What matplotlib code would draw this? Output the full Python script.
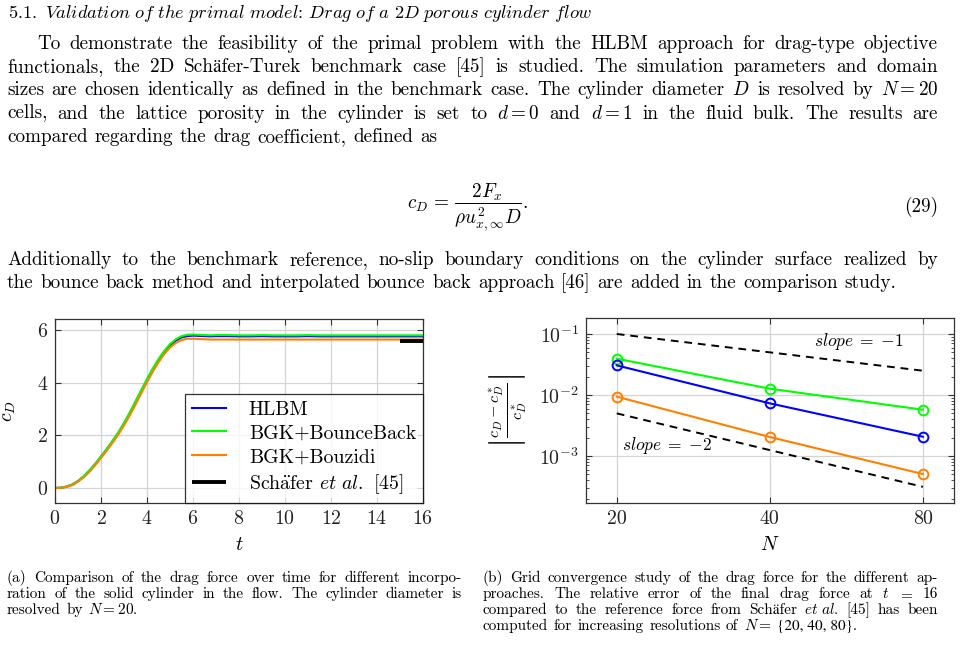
import re
import matplotlib
matplotlib.use("Agg")
import matplotlib.pyplot as plt
from matplotlib.ticker import FixedLocator, FixedFormatter, NullLocator, LogLocator

plt.rcParams['font.family'] = ['cmr10', 'STIXGeneral', 'DejaVu Serif']
plt.rcParams['mathtext.fontset'] = 'cm'
plt.rcParams['axes.formatter.use_mathtext'] = True
plt.rcParams['axes.unicode_minus'] = True

# ---------------- data ----------------
t = [0.0, 0.25, 0.5, 0.75, 1.0, 1.25, 1.5, 1.75, 2.0, 2.25, 2.5, 2.75, 3.0, 3.25,
     3.5, 3.75, 4.0, 4.25, 4.5, 4.75, 5.0, 5.25, 5.5, 5.75, 6.0, 6.25, 6.5, 6.75,
     7.0, 7.5, 8.0, 8.5, 9.0, 9.5, 10.0, 10.5, 11.0, 11.5, 12.0, 12.5, 13.0, 13.5,
     14.0, 14.5, 15.0, 15.5, 16.0]
cd_hlbm = [0.00, 0.01, 0.05, 0.13, 0.26, 0.44, 0.66, 0.91, 1.19, 1.47, 1.77, 2.09,
           2.45, 2.84, 3.26, 3.69, 4.10, 4.50, 4.86, 5.17, 5.42, 5.60, 5.72, 5.77,
           5.79, 5.78, 5.77, 5.76, 5.77, 5.77, 5.76, 5.76, 5.77, 5.76, 5.76, 5.76,
           5.77, 5.76, 5.76, 5.76, 5.76, 5.76, 5.76, 5.76, 5.76, 5.76, 5.76]
cd_bounceback = [0.00, 0.01, 0.05, 0.13, 0.27, 0.45, 0.67, 0.92, 1.20, 1.48, 1.79,
                 2.11, 2.47, 2.87, 3.29, 3.72, 4.14, 4.54, 4.90, 5.21, 5.47, 5.65,
                 5.77, 5.82, 5.83, 5.82, 5.81, 5.80, 5.81, 5.81, 5.80, 5.80, 5.81,
                 5.80, 5.80, 5.80, 5.81, 5.80, 5.80, 5.80, 5.80, 5.80, 5.80, 5.80,
                 5.80, 5.80, 5.80]
cd_bouzidi = [0.00, 0.01, 0.04, 0.11, 0.24, 0.41, 0.62, 0.87, 1.14, 1.42, 1.72, 2.03,
              2.38, 2.76, 3.17, 3.60, 4.02, 4.42, 4.78, 5.09, 5.34, 5.51, 5.62, 5.67,
              5.67, 5.66, 5.65, 5.64, 5.64, 5.64, 5.64, 5.64, 5.64, 5.64, 5.64, 5.64,
              5.64, 5.64, 5.64, 5.64, 5.64, 5.64, 5.64, 5.64, 5.64, 5.64, 5.64]
t_ref = [15.0, 16.0]
cd_ref = [5.58, 5.58]

N = [20, 40, 80]
err_hlbm = [0.0306, 0.0073, 0.00207]
err_bounceback = [0.0394, 0.0127, 0.00574]
err_bouzidi = [0.0094, 0.00205, 0.000507]
N_slope = [20, 80]
slope1 = [0.1, 0.025]
slope2 = [0.005, 0.0003125]

series_names = ['HLBM', 'BGK+BounceBack', 'BGK+Bouzidi',
                r'Sch$\mathrm{\ddot{a}}$fer $\mathit{et\ al.}$ [45]']
colors = ['#0000ff', '#00ff00', '#ff8000', '#000000']
xticks_t = [0, 2, 4, 6, 8, 10, 12, 14, 16]
yticks_cd = [0, 2, 4, 6]

# ---------------- page ----------------
W, H = 961, 654
fig = plt.figure(figsize=(W / 100, H / 100), dpi=100)
renderer = fig.canvas.get_renderer()


def tokens(s):
    return re.findall(r'\$[^$]*\$[^ ]*|[^ ]+', s)


def place_line(text, x0, x1, ybase, size, justify=True, **kw):
    words = tokens(text)
    objs = []
    for w in words:
        extra = dict(kw)
        if w.startswith('{'):
            extra['family'] = 'STIXGeneral'
        objs.append(fig.text(0, 0, w, fontsize=size, va='baseline', ha='left', **extra))
    widths = [o.get_window_extent(renderer).width for o in objs]
    if justify and len(words) > 1:
        gap = (x1 - x0 - sum(widths)) / (len(words) - 1)
    else:
        gap = size * 100 / 72 * 0.36
    x = x0
    for o, w in zip(objs, widths):
        o.set_position((x / W, 1 - ybase / H))
        x += w + gap


BODY = 13.8
fig.text(8 / W, 1 - 18 / H,
         r'$\mathit{5.1.\ Validation\ of\ the\ primal\ model}$:'
         r' $\mathit{Drag\ of\ a\ 2D\ porous\ cylinder\ flow}$',
         fontsize=13.2, va='baseline', ha='left')

para1 = [
    ("To demonstrate the feasibility of the primal problem with the HLBM approach for drag-type objective", 37, True),
    ("functionals, the 2D Schäfer-Turek benchmark case [45] is studied. The simulation parameters and domain", 7, True),
    ("sizes are chosen identically as defined in the benchmark case. The cylinder diameter $D$ is resolved by $N=20$", 7, True),
    ("cells, and the lattice porosity in the cylinder is set to $d=0$ and $d=1$ in the fluid bulk. The results are", 7, True),
    ("compared regarding the drag coefficient, defined as", 7, False),
]
yb = 49
for txt, x0, just in para1:
    place_line(txt, x0, 938, yb, BODY, justify=just)
    yb += 23.2

fig.text(407 / W, 1 - 207 / H, r'$c_D\,=\,\dfrac{2F_x}{\rho u_{x,\infty}^2 D}.$',
         fontsize=BODY, va='center', ha='left')
fig.text(938 / W, 1 - 207 / H, '(29)', fontsize=BODY, va='center', ha='right')

para2 = [
    ("Additionally to the benchmark reference, no-slip boundary conditions on the cylinder surface realized by", 7, True),
    ("the bounce back method and interpolated bounce back approach [46] are added in the comparison study.", 7, False),
]
yb = 265
for txt, x0, just in para2:
    place_line(txt, x0, 938, yb, BODY, justify=just)
    yb += 23.2

CAP = 11.0
cap_a = [
    ("(a) Comparison of the drag force over time for different incorpo-", True),
    ("ration of the solid cylinder in the flow. The cylinder diameter is", True),
    ("resolved by $N=20$.", False),
]
cap_b = [
    ("(b) Grid convergence study of the drag force for the different ap-", True),
    ("proaches. The relative error of the final drag force at $t$ $=$ 16", True),
    (r"compared to the reference force from Schäfer $\mathit{et\ al.}$ [45] has been", True),
    ("computed for increasing resolutions of $N=$ {20,\u00a040,\u00a080}.", False),
]
yb = 582
for txt, just in cap_a:
    place_line(txt, 7, 462, yb, CAP, justify=just)
    yb += 16
yb = 582
for txt, just in cap_b:
    place_line(txt, 483, 938, yb, CAP, justify=just)
    yb += 16

# ---------------- plots ----------------
FS = 14.3
grid_kw = dict(color='#d4d4d4', lw=0.9)


def style_axes(ax):
    for s in ax.spines.values():
        s.set_color('#333333')
        s.set_linewidth(0.9)
    ax.tick_params(which='both', direction='in', top=True, right=True,
                   colors='#333333', labelcolor='#222222', labelsize=FS)
    ax.tick_params(which='major', length=4.5, width=0.8, pad=5)
    ax.tick_params(which='minor', length=2.5, width=0.6)


# left axes
ax1 = fig.add_axes([55 / W, 1 - 503 / H, 368 / W, 184 / H])
ax1.plot(t, cd_hlbm, color=colors[0], lw=1.5, label=series_names[0])
ax1.plot(t, cd_bounceback, color=colors[1], lw=1.5, label=series_names[1])
ax1.plot(t, cd_bouzidi, color=colors[2], lw=1.5, label=series_names[2])
ax1.plot(t_ref, cd_ref, color=colors[3], lw=2.8, solid_capstyle='butt', label=series_names[3])
ax1.set_xlim(0, 16)
ax1.set_ylim(-0.57, 6.42)
ax1.set_xticks(xticks_t)
ax1.set_yticks(yticks_cd)
ax1.grid(True, **grid_kw)
ax1.set_axisbelow(True)
style_axes(ax1)
ax1.set_xlabel(r'$t$', fontsize=FS, labelpad=6)
ax1.set_ylabel(r'$c_D$', fontsize=FS)
ax1.yaxis.set_label_coords(-0.10, 0.5)
leg = ax1.legend(loc='lower right', fontsize=FS, frameon=True, fancybox=False,
                 borderaxespad=0, handlelength=1.7, handletextpad=1.15,
                 labelspacing=0.3, borderpad=0.35)
leg.get_frame().set_edgecolor('black')
leg.get_frame().set_linewidth(0.9)

# right axes
ax2 = fig.add_axes([586 / W, 1 - 503 / H, 368 / W, 185 / H])
ax2.set_xscale('log', base=2)
ax2.set_yscale('log')
ax2.plot(N_slope, slope1, color='black', lw=1.4, ls=(0, (4, 3)))
ax2.plot(N_slope, slope2, color='black', lw=1.4, ls=(0, (4, 3)))
mk = dict(marker='o', ms=7, mfc='none', mew=1.4, lw=1.5)
ax2.plot(N, err_bounceback, color=colors[1], **mk)
ax2.plot(N, err_hlbm, color=colors[0], **mk)
ax2.plot(N, err_bouzidi, color=colors[2], **mk)
ax2.set_xlim(17.4, 92.1)
ax2.set_ylim(10 ** -3.77, 10 ** -0.738)
ax2.xaxis.set_major_locator(FixedLocator(N))
ax2.xaxis.set_major_formatter(FixedFormatter([str(n) for n in N]))
ax2.xaxis.set_minor_locator(NullLocator())
ax2.yaxis.set_major_locator(LogLocator(base=10, numticks=10))
ax2.yaxis.set_minor_locator(LogLocator(base=10, subs=[2, 3, 4, 5, 6, 7, 8, 9], numticks=10))
ax2.grid(True, which='major', **grid_kw)
ax2.set_axisbelow(True)
style_axes(ax2)
ax2.set_xlabel(r'$N$', fontsize=FS, labelpad=6)
ax2.set_ylabel(r'$\left|\frac{c_D - c_D^*}{c_D^*}\right|$', fontsize=16.5)
ax2.yaxis.set_label_coords(-0.155, 0.5)
ax2.text(59.9, 0.074, r'$slope\;=\;{-}1$', fontsize=12.5, ha='center', va='center')
ax2.text(25.1, 0.00146, r'$slope\;=\;{-}2$', fontsize=12.5, ha='center', va='center')

fig.savefig('out.png', dpi=100)
